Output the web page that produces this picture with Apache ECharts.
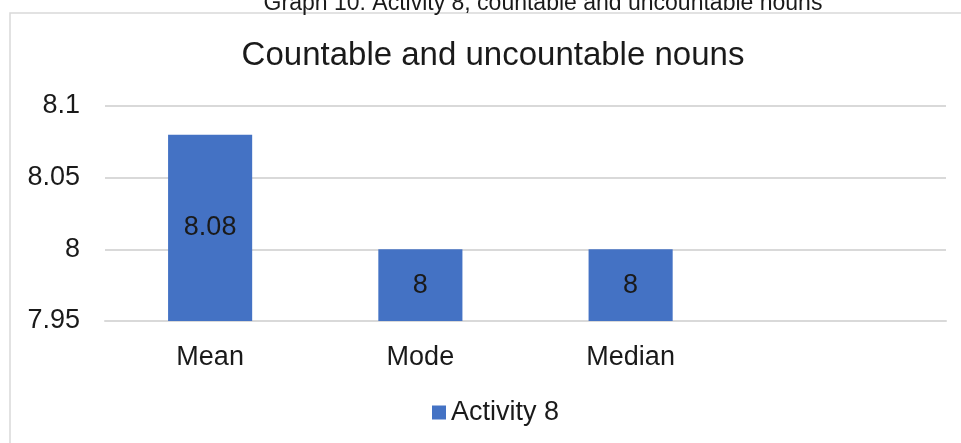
<!DOCTYPE html>
<html>
<head>
<meta charset="utf-8">
<script src="https://cdn.jsdelivr.net/npm/echarts@6/dist/echarts.min.js"></script>
<style>
  html, body { margin: 0; padding: 0; background: #fff; }
  #chart { width: 961px; height: 443px; }
</style>
</head>
<body>
<div id="chart"></div>
<script>
// values
var categories = ['Mean', 'Mode', 'Median', ''];
var activity8 = [8.08, 8, 8, null];
var seriesName = 'Activity 8';
var yMin = 7.95, yMax = 8.1, yStep = 0.05;

var font = 'Liberation Sans, Arial, sans-serif';
var ink = '#1a1a1a';

var chart = echarts.init(document.getElementById('chart'));

var option = {
    backgroundColor: '#fff',
    animation: false,
    title: [{
        // caption above the chart box, cut off at the top edge
        text: 'Graph 10: Activity 8, countable and uncountable nouns',
        left: 543, top: -8, padding: 0, textAlign: 'center',
        textStyle: {fontFamily: font, fontSize: 23, fontWeight: 'normal', color: ink}
    }, {
        text: 'Countable and uncountable nouns',
        left: 493, top: 39, padding: 0, textAlign: 'center',
        textStyle: {fontFamily: font, fontSize: 33, fontWeight: 'normal', color: ink}
    }],
    graphic: [{
        type: 'rect',
        shape: {x: 10, y: 13, width: 980, height: 460},
        style: {fill: 'none', stroke: '#d9d9d9', lineWidth: 1.5},
        silent: true
    }],
    legend: {
        data: [seriesName],
        left: 432, top: 399, padding: 0,
        icon: 'rect', itemWidth: 14, itemHeight: 14,
        textStyle: {fontFamily: font, fontSize: 27, color: ink}
    },
    grid: {left: 105, right: 15, top: 106, bottom: 122},
    xAxis: {
        type: 'category',
        data: categories,
        axisTick: {show: false},
        axisLine: {lineStyle: {color: '#d9d9d9', width: 2}},
        axisLabel: {fontFamily: font, fontSize: 27, color: ink, margin: 23}
    },
    yAxis: {
        type: 'value',
        min: yMin, max: yMax, interval: yStep,
        axisLine: {show: false},
        axisTick: {show: false},
        splitLine: {lineStyle: {color: '#d9d9d9', width: 2}},
        axisLabel: {fontFamily: font, fontSize: 27, color: ink, margin: 25}
    },
    series: [{
        name: seriesName,
        type: 'bar',
        data: activity8,
        barCategoryGap: '60%',
        itemStyle: {color: '#4472c4'},
        label: {
            show: true, position: 'inside',
            fontFamily: font, fontSize: 27, color: ink
        }
    }]
};

chart.setOption(option);
</script>
</body>
</html>
